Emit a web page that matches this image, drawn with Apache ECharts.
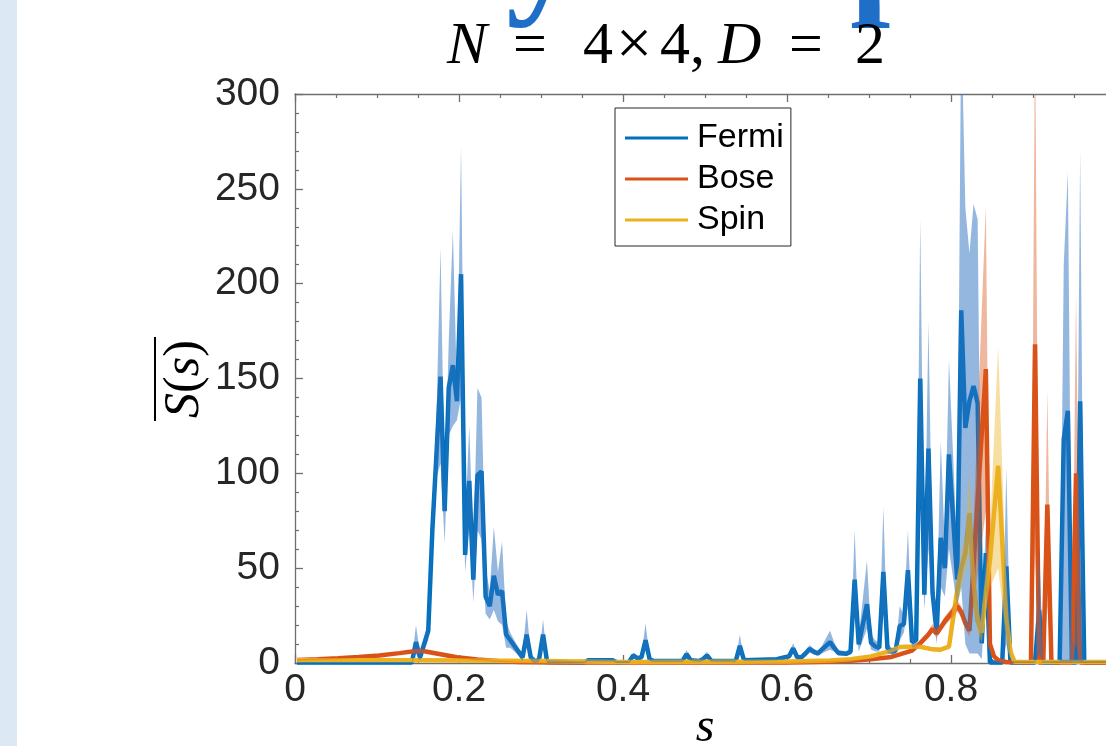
<!DOCTYPE html>
<html><head><meta charset="utf-8">
<script src="https://cdn.jsdelivr.net/npm/echarts@6/dist/echarts.min.js"></script>
<style>html,body{margin:0;padding:0;overflow:hidden;background:#fff;width:1106px;height:746px}#c{width:1140px;height:746px}</style>
</head><body><div id="c"></div>
<script>
// rows: [s, mean, lower band, upper band]
const fermiRows = [
[0.0025,0.2,0,0.5],[0.1425,0.2,0,0.5],[0.1475,11,5,20],[0.1525,3,1,5],[0.1625,17,12,22],
[0.1675,70,62,80],[0.1725,110,98,130],[0.1775,151,105,219],[0.1825,80,63,90],[0.1875,145,120,170],
[0.1925,157,125,228],[0.1975,138,128,145],[0.2025,205,140,272],[0.2075,57,48,75],[0.2125,96,72,125],
[0.2175,44,32,60],[0.2225,99,70,145],[0.2275,101,65,140],[0.2325,35,26,50],[0.2375,30,23,38],
[0.2425,46,28,72],[0.2475,36,22,48],[0.2525,38,20,64],[0.2575,15,8,22],[0.2625,12,8,16],
[0.2675,9,6,12],[0.2725,6,4,8],[0.2775,3,1,5],[0.2825,15,8,28],[0.2875,3,1,5],
[0.2925,1,0,2],[0.2975,1.5,0.5,3],[0.3025,15,8,23],[0.3075,0.5,0,1.5],[0.3525,0.3,0,0.8],
[0.3575,1.5,0.8,2.2],[0.3875,1.5,0.8,2.2],[0.3925,0.4,0,1],[0.4075,0.5,0,1],[0.4125,4,2.5,5.5],
[0.4175,2.5,1.5,3.5],[0.4225,3,2,4],[0.4275,12,7,21],[0.4325,2,1,3],[0.4375,1,0.5,1.5],
[0.4725,1,0.5,1.5],[0.4775,4.7,3,7],[0.4825,1.5,1,2],[0.4925,1,0.5,1.5],[0.4975,2,1,3],
[0.5025,4,2.5,6],[0.5075,1.2,0.7,1.7],[0.5375,1,0.5,1.5],[0.5425,9,5,15],[0.5475,1.5,1,2],
[0.5875,2,1.5,2.5],[0.5975,3,2,4],[0.6025,3.5,2.5,4.5],[0.6075,7.7,5,10.5],[0.6125,3,2,4],
[0.6175,3,2,4],[0.6225,5,3.5,6.5],[0.6275,7.4,5.5,9.5],[0.6325,6,4.5,7.5],[0.6375,5,4,6],
[0.6425,7,5,9],[0.6475,9,6,13],[0.6525,11,7,17],[0.6575,8,6,11],[0.6625,5.3,4,7],
[0.6725,4.9,4,6],[0.6775,6,4.5,8],[0.6825,44,25,70],[0.6875,9.8,6,14],[0.6975,31,18,54],
[0.7025,10.7,7,15],[0.7075,8.8,6,12],[0.7125,8,6,11],[0.7175,48,28,82],[0.7225,7.8,5,11],
[0.7275,6,4.5,8],[0.7325,6.5,5,8],[0.7375,19.5,12,30],[0.7425,20.5,16,25],[0.7475,49,30,70],
[0.7525,11,8,15],[0.7575,12,9,16],[0.7625,150,90,234],[0.7675,36,28,45],[0.7725,113,60,180],
[0.7775,37,28,48],[0.7825,16,10,25],[0.7875,66,40,117],[0.7925,50,35,62],[0.7975,110,60,160],
[0.8075,44,30,60],[0.8125,186,40,340],[0.8175,124,10,240],[0.8225,138,5,216],[0.8275,146,5,242],
[0.8325,137,5,234],[0.8375,10.4,2,20],[0.8425,58,40,72],[0.8475,0.3,0,1],[0.8625,0.3,0,1],
[0.8675,51,10,103],[0.8725,0.3,0,1],[0.9025,0.3,0,1],[0.9075,28,5,60],[0.9125,0.3,0,1],
[0.9325,0.3,0,1],[0.9375,118,0,210],[0.9425,133,0,259],[0.9475,0.3,0,15],[0.9525,0.3,0,5],
[0.9575,138,0,270],[0.9625,0.3,0,1],[0.9975,0.3,0,1]
];
const boseRows = [
[0.0025,1.6,1.2,2],[0.0275,2,1.6,2.4],[0.0525,2.5,2,3],[0.0775,3.2,2.7,3.7],[0.1025,4,3.4,4.6],
[0.1275,5.2,4.5,5.9],[0.1475,6.3,5.5,7.1],[0.1575,6.2,5.4,7],[0.1725,5,4.3,5.7],[0.1975,3,2.5,3.5],
[0.2225,1.8,1.4,2.2],[0.2475,1,0.7,1.3],[0.2725,0.5,0.3,0.7],[0.3225,0.2,0.1,0.3],[0.5975,0.3,0.2,0.4],
[0.6475,0.6,0.4,0.8],[0.6775,1.2,0.9,1.5],[0.7025,2,1.6,2.4],[0.7275,3.2,2.6,3.8],[0.7375,4.5,3.7,5.3],
[0.7525,6.5,5.5,7.5],[0.7625,10.5,9,12],[0.7725,15,13,17],[0.7775,18,16,20.5],[0.7825,15.5,13.5,17.5],
[0.7925,22,19.5,24.5],[0.8075,30,27,33],[0.8125,27,24,30],[0.8175,21,18,24],[0.8225,17,14,20],
[0.8425,155,80,241],[0.8475,10,6,14],[0.8525,3.5,2,5],[0.8575,1.5,1,2],[0.8675,0.5,0.2,0.8],
[0.8975,0.3,0,0.6],[0.9025,168,60,340],[0.9075,0.3,0,0.6],[0.9125,0.3,0,0.6],[0.9175,83.5,30,144],
[0.9225,0.3,0,0.6],[0.9475,0.3,0,0.6],[0.9525,100,10,195],[0.9575,0.3,0,0.6],[0.9975,0.3,0,0.6]
];
const spinRows = [
[0.0025,1.5,1.2,1.8],[0.1525,1.5,1.2,1.8],[0.3025,1,0.8,1.2],[0.4025,0.5,0.4,0.6],[0.6025,0.8,0.6,1],
[0.6525,1.3,1,1.6],[0.6775,2,1.6,2.4],[0.7025,3.5,3,4],[0.7275,6.5,5.8,7.2],[0.7375,8.5,7.5,9.5],
[0.7475,8.6,7.6,9.6],[0.7625,8.6,7.6,9.6],[0.7775,7.2,6.3,8.1],[0.7875,7,6,8],[0.7975,8.6,7.5,10],
[0.8075,38,30,46],[0.8125,50,40,58],[0.8175,58,48,66],[0.8225,79,58,100],[0.8275,42,30,58],
[0.8325,22,16,30],[0.8375,16,11,21],[0.8425,38,28,50],[0.8475,54,40,70],[0.8575,104,50,167],
[0.8675,24,12,38],[0.8725,6,3,10],[0.8775,0.6,0.3,0.9],[0.9975,0.5,0.3,0.7]
];
const seriesNames = ['Fermi', 'Bose', 'Spin'];
const allRows = [fermiRows, boseRows, spinRows];
const lineColors = ['#0072BD', '#D95319', '#EDB120'];
const bandColors = ['rgba(42,111,192,0.5)', 'rgba(217,83,25,0.42)', 'rgba(237,177,32,0.42)'];
const xMin = 0, xMax = 1, xStep = 0.2;
const yMin = 0, yMax = 300, yStep = 50;

const SANS = '"Liberation Sans", Arial, Helvetica, sans-serif';
const SERIF = '"Liberation Serif", "Times New Roman", serif';
const axCol = '#6f6f6f';

function meanSeries(i) {
  return {
    name: seriesNames[i], type: 'line', xAxisIndex: 0, yAxisIndex: 0,
    data: allRows[i].map(r => [r[0], r[1]]),
    symbol: 'none', showSymbol: false, silent: true, z: 2,
    color: lineColors[i],
    lineStyle: { color: lineColors[i], width: 4.5 },
    itemStyle: { color: lineColors[i] },
    emphasis: { disabled: true }
  };
}
function bandSeries(i) {
  const rows = allRows[i];
  return {
    name: seriesNames[i] + '_band', type: 'custom', xAxisIndex: 0, yAxisIndex: 0,
    silent: true, z: 3, clip: true,
    data: rows.map(r => [r[0], r[2], r[3]]),
    encode: { x: 0, y: [1, 2] },
    renderItem: function (params, api) {
      if (params.dataIndex !== 0) return null;
      const up = rows.map(r => api.coord([r[0], r[3]]));
      const lo = rows.map(r => api.coord([r[0], r[2]])).reverse();
      const cs = params.coordSys;
      return {
        type: 'polygon',
        shape: { points: up.concat(lo) },
        style: { fill: bandColors[i], stroke: null },
        clipPath: { type: 'rect', shape: { x: cs.x, y: cs.y, width: cs.width, height: cs.height } }
      };
    }
  };
}

const series = [meanSeries(0), meanSeries(1), meanSeries(2), bandSeries(0), bandSeries(1), bandSeries(2)];

const tickCommon = {
  axisLine: { show: true, onZero: false, lineStyle: { color: axCol, width: 1.3 } },
  axisTick: { show: true, inside: true, length: 8, lineStyle: { color: axCol, width: 1.3 } },
  minorTick: { show: true, length: 4, lineStyle: { color: axCol, width: 1.2 } },
  splitLine: { show: false }, minorSplitLine: { show: false }
};

const option = {
  animation: false,
  backgroundColor: '#ffffff',
  grid: { left: 295, top: 94, width: 820, height: 569, outerBoundsMode: 'none' },
  xAxis: [
    Object.assign({}, tickCommon, {
      type: 'value', min: xMin, max: xMax, interval: xStep, position: 'bottom',
      minorTick: Object.assign({}, tickCommon.minorTick, { splitNumber: 4 }),
      axisLabel: { fontSize: 39, fontFamily: SANS, color: '#262626', margin: 8 }
    }),
    Object.assign({}, tickCommon, {
      type: 'value', min: xMin, max: xMax, interval: xStep, position: 'top',
      minorTick: Object.assign({}, tickCommon.minorTick, { splitNumber: 4 }),
      axisLabel: { show: false }
    })
  ],
  yAxis: Object.assign({}, tickCommon, {
    type: 'value', min: yMin, max: yMax, interval: yStep,
    minorTick: Object.assign({}, tickCommon.minorTick, { splitNumber: 5 }),
    axisLabel: { fontSize: 39, fontFamily: SANS, color: '#262626', margin: 15 }
  }),
  legend: {
    data: seriesNames, orient: 'vertical', left: 615, top: 108,
    icon: 'rect', itemWidth: 63, itemHeight: 3, itemGap: 7,
    padding: [13, 7, 9, 10],
    backgroundColor: '#ffffff', borderColor: '#262626', borderWidth: 1,
    textStyle: { fontSize: 34, fontFamily: SANS, color: '#000', padding: [0, 0, 0, 4] },
    selectedMode: false
  },
  series: series,
  graphic: [
    { type: 'rect', left: 0, top: 0, shape: { x: 0, y: 0, width: 17, height: 746 }, style: { fill: '#dde8f5' }, silent: true },
    { type: 'text', x: 506, y: -40, style: { text: 'y', font: 'bold 145px ' + SERIF, fill: '#1f6fc8', align: 'left', verticalAlign: 'middle' }, silent: true },
    { type: 'text', x: 850, y: -40, style: { text: 'p', font: 'bold 145px ' + SERIF, fill: '#1f6fc8', align: 'left', verticalAlign: 'middle' }, silent: true },
    { type: 'text', x: 447, y: 47, style: { text: 'N', font: 'italic 60px ' + SERIF, fill: '#000', align: 'left', verticalAlign: 'middle' }, silent: true },
    { type: 'text', x: 513, y: 47, style: { text: '=', font: '60px ' + SERIF, fill: '#000', align: 'left', verticalAlign: 'middle' }, silent: true },
    { type: 'text', x: 583, y: 47, style: { text: '4', font: '60px ' + SERIF, fill: '#000', align: 'left', verticalAlign: 'middle' }, silent: true },
    { type: 'text', x: 616, y: 47, style: { text: '×', font: '64px ' + SERIF, fill: '#000', align: 'left', verticalAlign: 'middle' }, silent: true },
    { type: 'text', x: 660, y: 47, style: { text: '4,', font: '60px ' + SERIF, fill: '#000', align: 'left', verticalAlign: 'middle' }, silent: true },
    { type: 'text', x: 718, y: 47, style: { text: 'D', font: 'italic 60px ' + SERIF, fill: '#000', align: 'left', verticalAlign: 'middle' }, silent: true },
    { type: 'text', x: 789, y: 47, style: { text: '=', font: '60px ' + SERIF, fill: '#000', align: 'left', verticalAlign: 'middle' }, silent: true },
    { type: 'text', x: 855, y: 47, style: { text: '2', font: '60px ' + SERIF, fill: '#000', align: 'left', verticalAlign: 'middle' }, silent: true },
    { type: 'group', x: 185, y: 379, rotation: Math.PI / 2, silent: true, children: [
      { type: 'text', x: 0, y: 0, style: { text: '{i|S}({i|s})', font: '50px ' + SERIF, fill: '#000', align: 'center', verticalAlign: 'middle',
        rich: { i: { font: 'italic 50px ' + SERIF, fill: '#000' } } } },
      { type: 'line', shape: { x1: -42, y1: -30, x2: 42, y2: -30 }, style: { stroke: '#000', lineWidth: 2 } }
    ] },
    { type: 'text', x: 705, y: 728, style: { text: 's', font: 'italic 48px ' + SERIF, fill: '#000', align: 'center', verticalAlign: 'middle' }, silent: true }
  ]
};
const chart = echarts.init(document.getElementById('c'), null, { renderer: 'canvas' });
chart.setOption(option);
</script></body></html>
